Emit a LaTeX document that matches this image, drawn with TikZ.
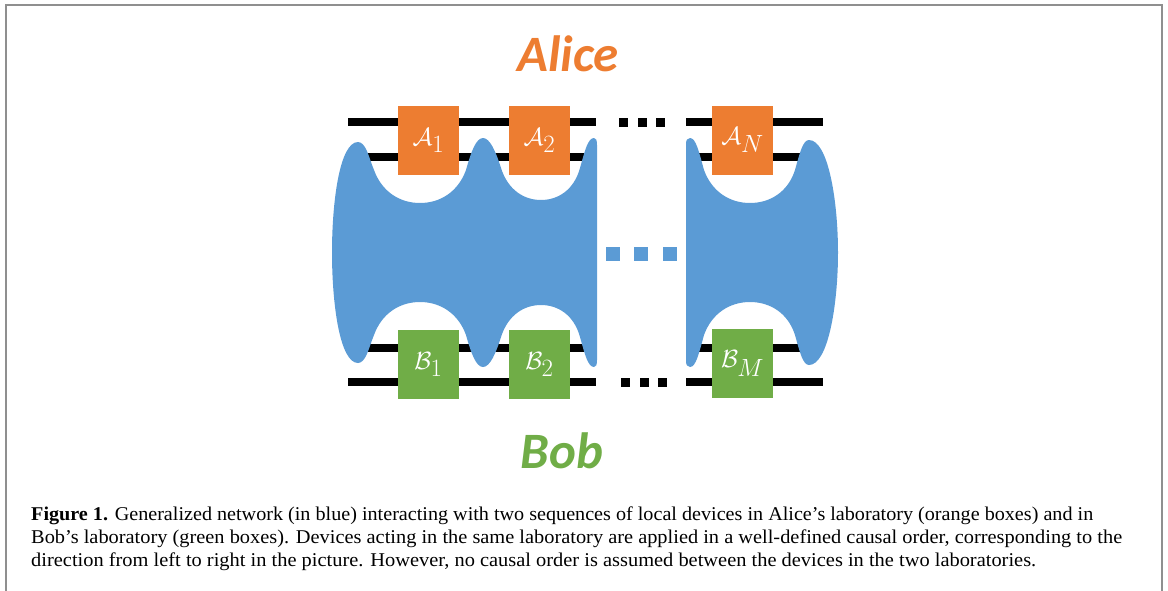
\documentclass[tikz,border=0pt]{standalone}
\usepackage{fontspec}
\usepackage{graphicx}
\setmainfont{Liberation Serif}
\newfontfamily\calibfont{Carlito}
\definecolor{netblue}{HTML}{5B9BD5}
\definecolor{aliceorange}{HTML}{ED7D31}
\definecolor{bobgreen}{HTML}{70AD47}
\definecolor{framegray}{HTML}{8F8F8F}
\newcommand\capline[2]{\resizebox{#1}{\height}{#2}}
\tikzset{
  wire/.style={line width=8.5pt, black},
  devbox/.style={draw=none, minimum width=61pt, minimum height=69pt, inner sep=0pt, text=white, font=\fontsize{36}{40}\selectfont},
  devA/.style={devbox, fill=aliceorange},
  devB/.style={devbox, fill=bobgreen},
  sqdot/.style={fill=black, draw=none, minimum size=9pt, inner sep=0pt},
  bluedot/.style={fill=netblue, draw=none, minimum size=14pt, inner sep=0pt},
  network/.style={fill=netblue, draw=none},
  labname/.style={anchor=base, inner sep=0pt, font=\calibfont\bfseries\itshape\fontsize{51}{60}\selectfont},
  captionline/.style={anchor=base west, inner sep=0pt, font=\fontsize{19.5}{23}\selectfont},
  framestyle/.style={draw=framegray, line width=2pt}
}
\begin{document}
\begin{tikzpicture}[x=1pt,y=-1pt]
\useasboundingbox (0,0) rectangle (1168,590);
\draw[framestyle] (6,592) -- (6,5) -- (1162,5) -- (1162,592);

% wire end points
\coordinate (w1a) at (348,122); \coordinate (w1b) at (596,122);
\coordinate (w1c) at (686,122); \coordinate (w1d) at (823,122);
\coordinate (w2a) at (362,157); \coordinate (w2b) at (590,157);
\coordinate (w2c) at (694,157); \coordinate (w2d) at (805,157);
\coordinate (w3a) at (362,348); \coordinate (w3b) at (590,348);
\coordinate (w3c) at (694,348); \coordinate (w3d) at (805,348);
\coordinate (w4a) at (348,382); \coordinate (w4b) at (596,382);
\coordinate (w4c) at (686,382); \coordinate (w4d) at (823,382);
\draw[wire] (w1a) -- (w1b); \draw[wire] (w1c) -- (w1d);
\draw[wire] (w2a) -- (w2b); \draw[wire] (w2c) -- (w2d);
\draw[wire] (w3a) -- (w3b); \draw[wire] (w3c) -- (w3d);
\draw[wire] (w4a) -- (w4b); \draw[wire] (w4c) -- (w4d);

% left network
\fill[network] (358,142)
 .. controls (366,142) and (369,158) .. (374,170)
 .. controls (382,192) and (400,203) .. (420,203)
 .. controls (440,203) and (458,192) .. (466,170)
 .. controls (471,152) and (476,138) .. (483,138)
 .. controls (490,138) and (496,152) .. (501,168)
 .. controls (508,190) and (524,200) .. (541,200)
 .. controls (558,200) and (574,190) .. (580,168)
 .. controls (585,150) and (588,138) .. (594,138)
 .. controls (596,138) and (597,140) .. (597,145)
 -- (597,360)
 .. controls (597,365) and (596,367) .. (594,367)
 .. controls (588,367) and (585,355) .. (580,337)
 .. controls (574,315) and (558,305) .. (541,305)
 .. controls (524,305) and (508,315) .. (501,337)
 .. controls (496,353) and (490,367) .. (483,367)
 .. controls (476,367) and (471,353) .. (466,335)
 .. controls (458,313) and (440,302) .. (420,302)
 .. controls (400,302) and (382,313) .. (374,335)
 .. controls (369,347) and (366,363) .. (358,363)
 .. controls (340,363) and (332,305) .. (332,252.5)
 .. controls (332,200) and (340,142) .. (358,142) -- cycle;

% right network
\fill[network] (686,145)
 .. controls (686,140) and (687,138) .. (690,138)
 .. controls (696,138) and (699,152) .. (704,170)
 .. controls (712,192) and (730,203) .. (750,203)
 .. controls (770,203) and (788,192) .. (795,170)
 .. controls (800,152) and (803,140) .. (809,140)
 .. controls (828,140) and (838,200) .. (838,252.5)
 .. controls (838,305) and (828,365) .. (809,365)
 .. controls (803,365) and (800,353) .. (795,335)
 .. controls (788,313) and (770,302) .. (750,302)
 .. controls (730,302) and (712,313) .. (704,335)
 .. controls (699,353) and (696,367) .. (690,367)
 .. controls (687,367) and (686,365) .. (686,360) -- cycle;

% devices
\node[devA] (A1) at (428.5,140.5) {$\mathcal{A}_1$};
\node[devA] (A2) at (539.5,140.5) {$\mathcal{A}_2$};
\node[devA] (AN) at (742.5,140) {$\mathcal{A}_N$};
\node[devB] (B1) at (428.5,364.5) {$\mathcal{B}_1$};
\node[devB] (B2) at (539.5,364.5) {$\mathcal{B}_2$};
\node[devB] (BM) at (742.5,363.5) {$\mathcal{B}_M$};

% dots
\node[sqdot] (ta) at (623.5,122.5) {};
\node[sqdot] (tb) at (642.5,122.5) {};
\node[sqdot] (tc) at (660.5,122.5) {};
\node[sqdot] (ba) at (625.5,382.5) {};
\node[sqdot] (bb) at (644.5,382.5) {};
\node[sqdot] (bc) at (662.5,382.5) {};
\node[bluedot] (ma) at (613,254) {};
\node[bluedot] (mb) at (641,254) {};
\node[bluedot] (mc) at (670,254) {};

% labels
\node[labname, text=aliceorange] (alice) at (568,71) {Alice};
\node[labname, text=bobgreen] (bob) at (562,468) {Bob};

% caption
\node[captionline] (cap1) at (31,520) {\capline{1062pt}{\textbf{Figure 1.} Generalized network (in blue) interacting with two sequences of local devices in Alice’s laboratory (orange boxes) and in}};
\node[captionline] (cap2) at (31,543) {\capline{1091pt}{Bob’s laboratory (green boxes). Devices acting in the same laboratory are applied in a well-defined causal order, corresponding to the}};
\node[captionline] (cap3) at (31,566) {\capline{1005pt}{direction from left to right in the picture. However, no causal order is assumed between the devices in the two laboratories.}};
\end{tikzpicture}
\end{document}
